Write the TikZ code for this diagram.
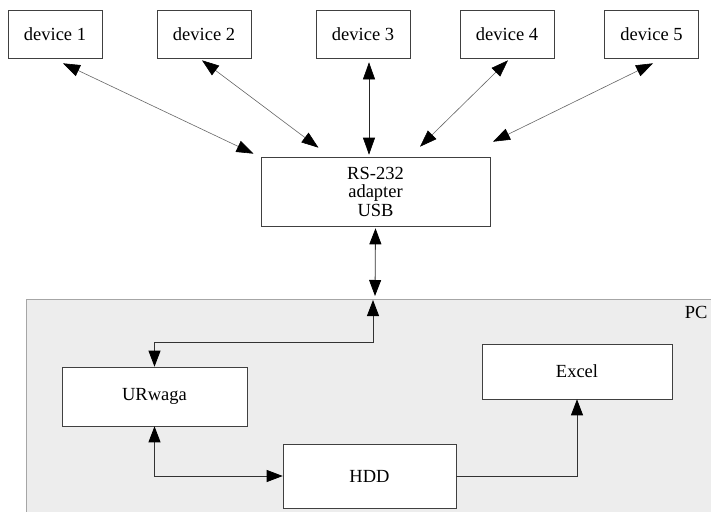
\documentclass[tikz,border=0pt]{standalone}
\usepackage{fontspec}
\setmainfont{Liberation Serif}
\usetikzlibrary{arrows.meta}
\definecolor{pcfill}{HTML}{EDEDED}
\tikzset{
  box/.style={draw=black!75, line width=0.6pt, fill=white, inner sep=0pt, font=\fontsize{18.5}{18.5}\selectfont, align=center},
  devline/.style={draw=black!60, line width=0.6pt, {Triangle[length=17pt,width=12pt,black]}-{Triangle[length=17pt,width=12pt,black]}},
  conn/.style={draw=black!80, line width=0.8pt},
  both/.style={{Triangle[length=16pt,width=12pt,black]}-{Triangle[length=16pt,width=12pt,black]}},
  endtip/.style={-{Triangle[length=16pt,width=12pt,black]}}
}
\begin{document}
\begin{tikzpicture}[x=1pt,y=-1pt]
\useasboundingbox (0,0) rectangle (711,511);
% PC region
\fill[pcfill] (26,299) rectangle (712,512);
\draw[black!35, line width=0.6pt] (712,299) -- (26,299) -- (26,512);
\node[anchor=north east, font=\fontsize{18.5}{18.5}\selectfont] (pc) at (711,303) {PC};
% devices
\node[box, minimum width=94pt, minimum height=48pt] (d1) at (55,34) {device 1};
\node[box, minimum width=94pt, minimum height=48pt] (d2) at (204,34) {device 2};
\node[box, minimum width=94pt, minimum height=48pt] (d3) at (363,34) {device 3};
\node[box, minimum width=94pt, minimum height=48pt] (d4) at (507,34) {device 4};
\node[box, minimum width=94pt, minimum height=48pt] (d5) at (651.5,34) {device 5};
% adapter
\node[box, minimum width=229pt, minimum height=69pt] (rs) at (375.5,191.5) {RS-232\\adapter\\USB};
% PC nodes
\node[box, minimum width=185pt, minimum height=59pt] (ur) at (154.5,396.5) {URwaga};
\node[box, minimum width=173pt, minimum height=64pt] (hdd) at (369.5,476) {HDD};
\node[box, minimum width=190pt, minimum height=55pt] (ex) at (577,371.5) {Excel};
% device connectors
\draw[devline] ([xshift=8pt,yshift=-5pt]d1.south) -- ([xshift=-122pt,yshift=3pt]rs.north);
\draw[devline] ([xshift=-2pt,yshift=-2pt]d2.south) -- ([xshift=-57pt,yshift=9pt]rs.north);
\draw[devline, draw=black!85] ([xshift=6pt,yshift=-4pt]d3.south) -- ([xshift=6pt,yshift=2pt]d3.south |- rs.north);
\draw[devline] ([xshift=1pt,yshift=-2pt]d4.south) -- ([xshift=44.5pt,yshift=10pt]rs.north);
\draw[devline] ([xshift=1.5pt,yshift=-5pt]d5.south) -- ([xshift=117.5pt,yshift=15pt]rs.north);
% adapter to PC
\coordinate (pcin) at (375,296);
\draw[conn, both] ([yshift=-2pt]rs.south) -- (pcin);
\coordinate (up) at (373,300);
\coordinate (bend) at (373,342);
\draw[conn, both] (up) -- (bend) -| (ur.north);
% URwaga - HDD
\draw[conn, both] (ur.south) |- (hdd.west);
% HDD - Excel
\draw[conn, endtip] (hdd.east) -| (ex.south);
\end{tikzpicture}
\end{document}
